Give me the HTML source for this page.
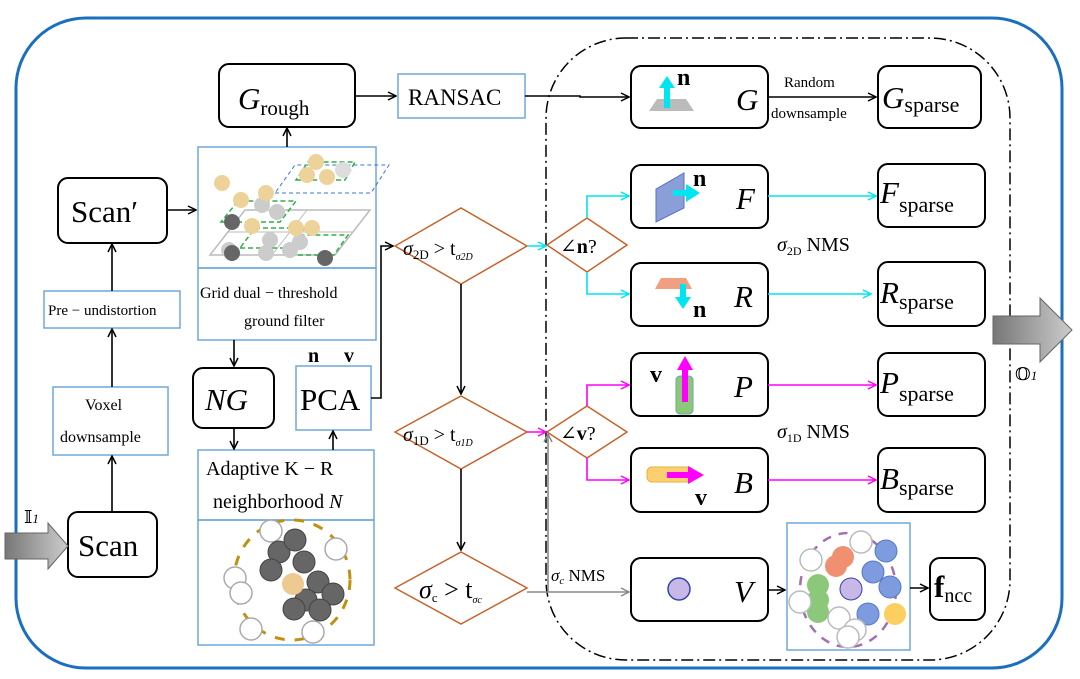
<!DOCTYPE html>
<html><head><meta charset="utf-8"><style>
html,body{margin:0;padding:0;background:#fff;}
svg{display:block;font-family:"Liberation Serif","DejaVu Serif",serif;}
.s{font-style:italic;}
</style></head><body>
<svg width="1080" height="679" viewBox="0 0 1080 679" xmlns="http://www.w3.org/2000/svg">
<defs>
<marker id="ak" markerWidth="10" markerHeight="10" refX="9" refY="5" orient="auto" markerUnits="userSpaceOnUse"><path d="M1,1 L9,5 L1,9" fill="none" stroke="#000" stroke-width="1.5"/></marker>
<marker id="ac" markerWidth="10" markerHeight="10" refX="9" refY="5" orient="auto" markerUnits="userSpaceOnUse"><path d="M1,1 L9,5 L1,9" fill="none" stroke="#00e5f0" stroke-width="1.5"/></marker>
<marker id="am" markerWidth="10" markerHeight="10" refX="9" refY="5" orient="auto" markerUnits="userSpaceOnUse"><path d="M1,1 L9,5 L1,9" fill="none" stroke="#f0f" stroke-width="1.5"/></marker>
<marker id="ag" markerWidth="10" markerHeight="10" refX="9" refY="5" orient="auto" markerUnits="userSpaceOnUse"><path d="M1,1 L9,5 L1,9" fill="none" stroke="#888" stroke-width="1.5"/></marker>
<linearGradient id="gg" x1="0" x2="1"><stop offset="0" stop-color="#777"/><stop offset="1" stop-color="#ccc"/></linearGradient>
</defs>
<rect width="1080" height="679" fill="#fff"/>
<rect x="16" y="18" width="1046" height="650" rx="70" fill="none" stroke="#1a6fbf" stroke-width="3"/>
<rect x="546" y="38" width="464" height="622" rx="80" fill="none" stroke="#000" stroke-width="1.5" stroke-dasharray="12,4,2,4"/>

<g fill="none" stroke="#000" stroke-width="2">
<rect x="219" y="64" width="136" height="63" rx="10"/>
<rect x="58" y="178" width="109" height="65" rx="10"/>
<rect x="68" y="512" width="89" height="65" rx="10"/>
<rect x="193" y="368" width="81" height="60" rx="10"/>
<rect x="631" y="66" width="137" height="62" rx="10"/>
<rect x="631" y="165" width="137" height="63" rx="10"/>
<rect x="631" y="263" width="137" height="63" rx="10"/>
<rect x="631" y="353" width="137" height="63" rx="10"/>
<rect x="631" y="448" width="137" height="64" rx="10"/>
<rect x="631" y="558" width="137" height="63" rx="10"/>
<rect x="878" y="66" width="103" height="62" rx="10"/>
<rect x="878" y="164" width="107" height="63" rx="10"/>
<rect x="878" y="262" width="107" height="64" rx="10"/>
<rect x="878" y="353" width="107" height="63" rx="10"/>
<rect x="878" y="448" width="107" height="64" rx="10"/>
<rect x="930" y="558" width="55" height="62" rx="10"/>
</g>
<g fill="none" stroke="#6fa8dc" stroke-width="1.5">
<rect x="398" y="74" width="127" height="44"/>
<rect x="44" y="291" width="136" height="37"/>
<rect x="53" y="387" width="115" height="68"/>
<rect x="198" y="147" width="178" height="121"/>
<rect x="198" y="268" width="178" height="72"/>
<rect x="296" y="366" width="75" height="64"/>
<rect x="198" y="450" width="176" height="70"/>
<rect x="198" y="520" width="176" height="125"/>
<rect x="787" y="523" width="123" height="127"/>
</g>
<g fill="none" stroke="#c8622a" stroke-width="1.5">
<polygon points="395,246 461,208 527,246 461,284"/>
<polygon points="395,432 461,396 527,432 461,469"/>
<polygon points="395,588 461,552 527,588 461,624"/>
<polygon points="547,245 587,218 627,245 587,272"/>
<polygon points="547,432 587,406 627,432 587,458"/>
</g>

<g fill="none" stroke="#000" stroke-width="1.6" marker-end="url(#ak)">
<line x1="112" y1="512" x2="112" y2="456"/>
<line x1="112" y1="387" x2="112" y2="329"/>
<line x1="112" y1="291" x2="112" y2="244"/>
<line x1="167" y1="210" x2="196" y2="210"/>
<line x1="287" y1="147" x2="287" y2="128"/>
<line x1="355" y1="96" x2="396" y2="96"/>
<polyline points="525,96 580,96 580,97 629,97"/>
<line x1="234" y1="340" x2="234" y2="366"/>
<line x1="234" y1="428" x2="234" y2="449"/>
<line x1="333" y1="450" x2="333" y2="431"/>
<polyline points="371,398 381,398 381,246 393,246"/>
<line x1="461" y1="284" x2="461" y2="394"/>
<line x1="461" y1="469" x2="461" y2="550"/>
<line x1="768" y1="97" x2="876" y2="97"/>
<line x1="768" y1="590" x2="785" y2="590"/>
<line x1="910" y1="588" x2="928" y2="588"/>
</g>
<g fill="none" stroke="#00e5f0" stroke-width="1.6" marker-end="url(#ac)">
<line x1="527" y1="246" x2="546" y2="246"/>
<polyline points="587,218 587,196 629,196"/>
<polyline points="587,272 587,294 629,294"/>
<line x1="768" y1="196" x2="876" y2="196"/>
<line x1="768" y1="294" x2="871" y2="294"/>
</g>
<g fill="none" stroke="#f0f" stroke-width="1.6" marker-end="url(#am)">
<line x1="527" y1="432" x2="546" y2="432"/>
<polyline points="587,406 587,385 629,385"/>
<polyline points="587,458 587,480 629,480"/>
<line x1="768" y1="385" x2="876" y2="385"/>
<line x1="768" y1="480" x2="876" y2="480"/>
</g>
<g fill="none" stroke="#888" stroke-width="1.6" marker-end="url(#ag)">
<line x1="527" y1="592" x2="629" y2="592"/>
<line x1="548" y1="592" x2="548" y2="434"/>
</g>

<polygon points="5,533 48,533 48,523 68,546 48,569 48,559 5,559" fill="url(#gg)" stroke="#666"/>
<polygon points="993,316 1040,316 1040,298 1072,330 1040,362 1040,344 993,344" fill="url(#gg)" stroke="#666"/>

<g font-size="31" fill="#000">
<text x="238" y="109" class="s">G<tspan font-size="21" font-style="normal" dy="6">rough</tspan></text>
<text x="71" y="222">Scan′</text>
<text x="78" y="556">Scan</text>
<text x="205" y="410" class="s">NG</text>
<text x="300" y="410">PCA</text>
<text x="408" y="105" font-size="23">RANSAC</text>
<text x="736" y="110" class="s">G</text>
<text x="736" y="209" class="s">F</text>
<text x="734" y="307" class="s">R</text>
<text x="734" y="397" class="s">P</text>
<text x="734" y="493" class="s">B</text>
<text x="734" y="602" class="s">V</text>
<text x="882" y="108" class="s">G<tspan font-size="22" font-style="normal" dy="4">sparse</tspan></text>
<text x="880" y="203" class="s">F<tspan font-size="22" font-style="normal" dy="9">sparse</tspan></text>
<text x="880" y="303" class="s">R<tspan font-size="22" font-style="normal" dy="6">sparse</tspan></text>
<text x="880" y="393" class="s">P<tspan font-size="22" font-style="normal" dy="8">sparse</tspan></text>
<text x="880" y="489" class="s">B<tspan font-size="22" font-style="normal" dy="6">sparse</tspan></text>
<text x="934" y="597" font-weight="bold">f<tspan font-size="20" font-weight="normal" dy="5">ncc</tspan></text>
</g>
<g font-size="15" fill="#000">
<text x="48" y="315">Pre − undistortion</text>
<text x="85" y="410" font-size="16">Voxel</text>
<text x="60" y="442" font-size="16">downsample</text>
<text x="200" y="298" font-size="16">Grid dual − threshold</text>
<text x="244" y="326" font-size="16">ground filter</text>
<text x="784" y="87">Random</text>
<text x="771" y="118">downsample</text>
</g>
<g font-size="20" fill="#000">
<text x="206" y="475">Adaptive  K − R</text>
<text x="213" y="508">neighborhood <tspan class="s">N</tspan></text>
<text x="308" y="362" font-weight="bold">n</text>
<text x="344" y="362" font-weight="bold">v</text>
<text x="403" y="255" class="s">σ<tspan font-size="13" font-style="normal" dy="4">2D</tspan><tspan font-style="normal" dy="-4"> &gt; t</tspan><tspan font-size="10" dy="5">σ2D</tspan></text>
<text x="403" y="441" class="s">σ<tspan font-size="13" font-style="normal" dy="4">1D</tspan><tspan font-style="normal" dy="-4"> &gt; t</tspan><tspan font-size="10" dy="5">σ1D</tspan></text>
<text x="419" y="598" font-size="26" class="s">σ<tspan font-size="13" font-style="normal" dy="4">c</tspan><tspan font-style="normal" dy="-4"> &gt; t</tspan><tspan font-size="10" dy="5">σc</tspan></text>
<text x="560" y="253">∠<tspan font-weight="bold">n</tspan>?</text>
<text x="560" y="440">∠<tspan font-weight="bold">v</tspan>?</text>
<text x="777" y="251" class="s">σ<tspan font-size="12" font-style="normal" dy="4">2D</tspan><tspan font-style="normal" dy="-4">  NMS</tspan></text>
<text x="777" y="438" class="s">σ<tspan font-size="12" font-style="normal" dy="4">1D</tspan><tspan font-style="normal" dy="-4">  NMS</tspan></text>
<text x="551" y="581" font-size="17" class="s">σ<tspan font-size="11" dy="3">c</tspan><tspan font-style="normal" dy="-3">  NMS</tspan></text>
<text x="24" y="523" font-size="18">𝕀<tspan class="s" font-size="13">1</tspan></text>
<text x="1015" y="380" font-size="18">𝕆<tspan class="s" font-size="13">1</tspan></text>
</g>

<polygon points="649,111 694,111 686,99 657,99" fill="#bbb"/>
<rect x="664" y="86" width="6" height="22" fill="#00e5f0"/><polygon points="659,88 667,76 675,88" fill="#00e5f0"/>
<text x="677" y="85" font-size="24" font-weight="bold">n</text>
<polygon points="656,189 684,173 684,208 656,222" fill="#8a9fd8" stroke="#5570c0"/>
<rect x="673" y="190" width="14" height="6" fill="#00e5f0"/><polygon points="686,184 700,193 686,202" fill="#00e5f0"/>
<text x="693" y="186" font-size="24" font-weight="bold">n</text>
<polygon points="655,289 692,289 686,278 661,278" fill="#f0a080"/>
<rect x="680" y="284" width="6" height="14" fill="#00e5f0"/><polygon points="675,297 683,309 691,297" fill="#00e5f0"/>
<text x="693" y="317" font-size="24" font-weight="bold">n</text>
<rect x="676" y="376" width="17" height="38" rx="4" fill="#8cc87a" stroke="#6a9"/>
<rect x="682" y="368" width="6" height="34" fill="#f0f"/><polygon points="677,370 685,356 693,370" fill="#f0f"/>
<text x="650" y="382" font-size="24" font-weight="bold">v</text>
<rect x="647" y="467" width="46" height="15" rx="5" fill="#fcd070" stroke="#e8b040"/>
<rect x="667" y="472" width="22" height="6" fill="#f0f"/><polygon points="688,466 704,475 688,484" fill="#f0f"/>
<text x="695" y="505" font-size="24" font-weight="bold">v</text>
<circle cx="679" cy="589" r="11" fill="#c8b8e8" stroke="#3344aa" stroke-width="1.5"/>

<g>
<polygon points="210,255 335,255 370,210 245,210" fill="none" stroke="#bbb" stroke-width="1.5"/>
<line x1="227" y1="232" x2="352" y2="232" stroke="#bbb"/><line x1="272" y1="255" x2="307" y2="210" stroke="#bbb"/>
<polygon points="275,193 371,193 389,165 295,165" fill="none" stroke="#3a78d0" stroke-dasharray="4,3"/>
<polygon points="221,222 280,222 296,201 238,201" fill="none" stroke="#2db04b" stroke-width="1.5" stroke-dasharray="5,3"/>
<polygon points="240,248 290,248 305,228 255,228" fill="none" stroke="#2db04b" stroke-width="1.5" stroke-dasharray="5,3"/>
<polygon points="290,255 334,255 348,235 302,235" fill="none" stroke="#2db04b" stroke-width="1.5" stroke-dasharray="5,3"/>
<polygon points="296,180 345,180 355,162 308,162" fill="none" stroke="#2db04b" stroke-width="1.5" stroke-dasharray="5,3"/>
<g fill="#ccc"><circle cx="262" cy="205" r="8"/><circle cx="277" cy="212" r="8"/><circle cx="229" cy="250" r="8"/><circle cx="266" cy="253" r="8"/><circle cx="300" cy="242" r="8"/><circle cx="290" cy="250" r="8"/><circle cx="270" cy="240" r="8"/></g>
<g fill="#666"><circle cx="232" cy="222" r="8"/><circle cx="232" cy="253" r="8"/><circle cx="325" cy="258" r="8"/></g>
<g fill="#edd29a"><circle cx="222" cy="183" r="8"/><circle cx="241" cy="200" r="8"/><circle cx="266" cy="193" r="8"/><circle cx="252" cy="226" r="8"/><circle cx="296" cy="228" r="8"/><circle cx="312" cy="228" r="8"/><circle cx="316" cy="162" r="8"/><circle cx="307" cy="175" r="8"/><circle cx="327" cy="177" r="8"/><circle cx="343" cy="170" r="8" fill="#ddd"/></g>
</g>

<ellipse cx="292" cy="580" rx="58" ry="60" fill="none" stroke="#c09010" stroke-width="3" stroke-dasharray="10,10"/>
<g fill="#fff" stroke="#aaa" stroke-width="1.5"><circle cx="271" cy="531" r="11"/><circle cx="336" cy="549" r="11"/><circle cx="235" cy="578" r="11"/><circle cx="241" cy="593" r="11"/><circle cx="251" cy="629" r="11"/><circle cx="313" cy="632" r="11"/></g>
<g fill="#666" stroke="#444"><circle cx="279" cy="552" r="11"/><circle cx="295" cy="540" r="11"/><circle cx="271" cy="570" r="11"/><circle cx="304" cy="562" r="11"/><circle cx="318" cy="582" r="11"/><circle cx="333" cy="594" r="11"/><circle cx="306" cy="600" r="11"/><circle cx="320" cy="610" r="11"/><circle cx="294" cy="609" r="11"/></g>
<circle cx="293" cy="584" r="11" fill="#eec990"/>

<ellipse cx="848" cy="590" rx="48" ry="57" fill="none" stroke="#a070b0" stroke-width="2.5" stroke-dasharray="9,8"/>
<g fill="#7f9be0" stroke="#5577cc"><circle cx="886" cy="551" r="11"/><circle cx="873" cy="572" r="11"/><circle cx="890" cy="587" r="11"/><circle cx="868" cy="614" r="11"/></g>
<g fill="#f09070"><circle cx="843" cy="557" r="11"/><circle cx="836" cy="566" r="11"/></g>
<g fill="#8cc87a"><circle cx="818" cy="585" r="11"/><circle cx="818" cy="600" r="11"/><circle cx="818" cy="612" r="11"/></g>
<circle cx="851" cy="589" r="11" fill="#c8b8e8" stroke="#3344aa"/>
<circle cx="895" cy="614" r="11" fill="#fcd060"/>
<g fill="#fff" stroke="#bbb" stroke-width="1.5"><circle cx="861" cy="542" r="11"/><circle cx="811" cy="560" r="11"/><circle cx="800" cy="602" r="11"/><circle cx="839" cy="618" r="11"/><circle cx="855" cy="630" r="11"/><circle cx="848" cy="637" r="11"/></g>
</svg>
</body></html>
